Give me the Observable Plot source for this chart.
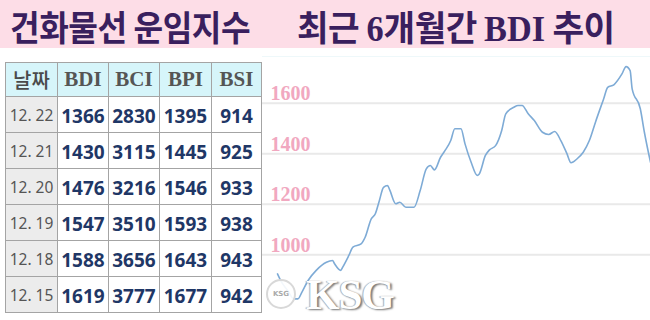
<!DOCTYPE html>
<html>
<head>
<meta charset="utf-8">
<script src="https://cdn.jsdelivr.net/npm/d3@7"></script>
<script src="https://cdn.jsdelivr.net/npm/@observablehq/plot@0.6"></script>
<style>
  html, body { margin: 0; padding: 0; }
  body { width: 650px; height: 320px; position: relative; overflow: hidden; background: #fff; }
  #band { position: absolute; left: 0; top: 0; width: 650px; height: 48px; background: #fddde7; }
  #titles { position: absolute; left: 0; top: 0; width: 650px; height: 56px; }
  .ttl { position: absolute; top: 0; line-height: normal; font-family: "Noto Sans CJK KR", sans-serif; font-weight: 700; font-size: 35px; color: #3a1f5e; white-space: nowrap; letter-spacing: -0.5px; transform-origin: left center; }
  .ser { font-family: "Liberation Serif", serif; font-weight: 700; letter-spacing: 0; }
  #tbl { position: absolute; left: 5px; top: 62px; border-collapse: collapse; table-layout: fixed; }
  #tbl td, #tbl th { border: 1px solid #a4a4a4; padding: 0; text-align: center; box-sizing: border-box; }
  #tbl th { background: #d6f5fa; color: #555; height: 34px; font-family: "Liberation Serif", serif; font-weight: 700; font-size: 21px; }
  #tbl th.kr { font-family: "Noto Sans CJK KR", sans-serif; font-weight: 500; font-size: 20px; color: #4a4a4a; }
  #tbl td { height: 36px; font-family: "Noto Sans", sans-serif; font-weight: 700; font-size: 19px; color: #1f3766; background: #fff; padding-top: 2px; }
  #tbl td.dt { background: #ececec; color: #555; font-weight: 400; font-size: 15.5px; padding-top: 0; }
  #chart { position: absolute; left: 262px; top: 48px; }
  #frame { position: absolute; left: 262px; top: 56px; width: 388px; height: 1px; background: #eef8fa; }
  #wm { position: absolute; left: 306px; top: 270px; font-family: "Liberation Serif", serif; font-weight: 700; font-size: 43px; color: #fff; text-shadow: 2px 1px 2px #777, -1px 0 1px #aaa; letter-spacing: -1px; }
  #logo { position: absolute; left: 266px; top: 279px; width: 26px; height: 26px; border-radius: 50%; border: 2px solid #d8d8d8; background: rgba(255,255,255,0.9); font: 700 7px "DejaVu Sans", sans-serif; color: #aaa; text-align: center; line-height: 26px; }
</style>
</head>
<body>
<div id="band"></div>
<div id="frame"></div>
<div id="titles">
  <span class="ttl" style="left:10px; transform: scaleX(0.92)">건화물선 운임지수</span>
  <span class="ttl" style="left:297px; transform: scaleX(0.98)">최근 <span class="ser">6</span>개월간 <span class="ser">BDI</span> 추이</span>
</div>
<table id="tbl"></table>
<div id="chart"></div>
<div id="logo">KSG</div>
<div id="wm">KSG</div>
<script>
// Table data
const headers = ["날짜", "BDI", "BCI", "BPI", "BSI"];
const tableDates = ["12. 22", "12. 21", "12. 20", "12. 19", "12. 18", "12. 15"];
const bdi = [1366, 1430, 1476, 1547, 1588, 1619];
const bci = [2830, 3115, 3216, 3510, 3656, 3777];
const bpi = [1395, 1445, 1546, 1593, 1643, 1677];
const bsi = [914, 925, 933, 938, 943, 942];
const colWidths = [52, 51, 51, 52, 50];

// Chart data (BDI, last 6 months)
const trendDates = ["2017-06-22","2017-06-24","2017-06-27","2017-06-30","2017-07-02","2017-07-04","2017-07-07","2017-07-11","2017-07-16","2017-07-19","2017-07-20","2017-07-23","2017-07-24","2017-07-27","2017-07-29","2017-08-02","2017-08-04","2017-08-07","2017-08-09","2017-08-11","2017-08-13","2017-08-15","2017-08-16","2017-08-19","2017-08-21","2017-08-24","2017-08-28","2017-08-31","2017-09-03","2017-09-05","2017-09-07","2017-09-10","2017-09-12","2017-09-15","2017-09-17","2017-09-20","2017-09-22","2017-09-25","2017-09-28","2017-09-29","2017-10-02","2017-10-04","2017-10-07","2017-10-10","2017-10-12","2017-10-16","2017-10-18","2017-10-20","2017-10-23","2017-10-26","2017-10-30","2017-11-02","2017-11-05","2017-11-08","2017-11-11","2017-11-13","2017-11-16","2017-11-19","2017-11-22","2017-11-25","2017-11-29","2017-12-01","2017-12-04","2017-12-08","2017-12-10","2017-12-12","2017-12-13","2017-12-17","2017-12-19","2017-12-22"];
const trendValues = [924,891,858,825,825,852,898,938,970,977,964,938,951,997,1030,1043,1069,1142,1162,1215,1267,1274,1258,1202,1208,1188,1188,1254,1340,1353,1336,1386,1410,1452,1499,1499,1439,1366,1314,1320,1393,1415,1432,1492,1558,1584,1591,1591,1558,1531,1485,1476,1488,1452,1400,1364,1380,1406,1452,1525,1617,1663,1673,1716,1745,1729,1657,1578,1485,1366];
const yTicks = [1000, 1200, 1400, 1600];
const xStart = "2017-06-22", xEnd = "2017-12-22";
const yDomain = [800, 1800];

// Build table
const tbl = document.getElementById("tbl");
const cg = document.createElement("colgroup");
colWidths.forEach(w => { const c = document.createElement("col"); c.style.width = w + "px"; cg.appendChild(c); });
tbl.appendChild(cg);
const hr = document.createElement("tr");
headers.forEach((h, i) => { const th = document.createElement("th"); th.textContent = h; if (i === 0) th.className = "kr"; hr.appendChild(th); });
tbl.appendChild(hr);
tableDates.forEach((d, i) => {
  const tr = document.createElement("tr");
  [d, bdi[i], bci[i], bpi[i], bsi[i]].forEach((v, j) => {
    const td = document.createElement("td"); td.textContent = v; if (j === 0) td.className = "dt"; tr.appendChild(td);
  });
  tbl.appendChild(tr);
});

// Build chart
const parse = d3.utcParse("%Y-%m-%d");
const data = trendDates.map((d, i) => ({date: parse(d), value: trendValues[i]}));
const chart = Plot.plot({
  width: 388,
  height: 272,
  marginLeft: 15,
  marginRight: 0,
  marginTop: 4.2,
  marginBottom: 15.3,
  x: {type: "utc", domain: [parse(xStart), parse(xEnd)], axis: null},
  y: {domain: yDomain, axis: null},
  style: {background: "transparent", overflow: "visible"},
  marks: [
    Plot.ruleY(yTicks, {stroke: "#e9e9e9", strokeWidth: 2, insetLeft: -15}),
    Plot.text(yTicks, {y: d => d, text: d => String(d), frameAnchor: "left", textAnchor: "start", lineAnchor: "bottom", dx: -7, dy: -3, fill: "#f1a8c0", fontSize: 20, fontWeight: "bold", fontFamily: "Liberation Serif, serif"}),
    Plot.line(data, {x: "date", y: "value", stroke: "#7eabd6", strokeWidth: 1.6, curve: "monotone-x"})
  ]
});
document.getElementById("chart").appendChild(chart);
</script>
</body>
</html>
